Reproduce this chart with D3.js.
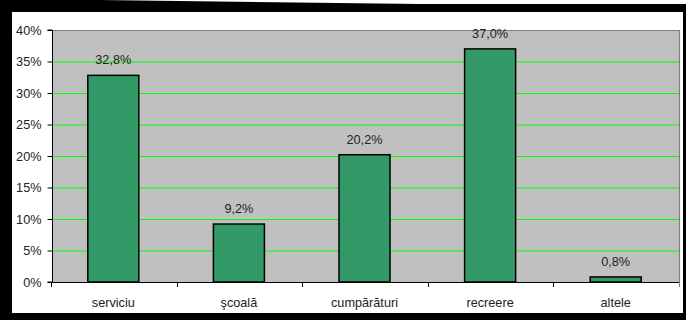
<!DOCTYPE html>
<html><head><meta charset="utf-8">
<script src="https://cdn.jsdelivr.net/npm/d3@7"></script>
<style>html,body{margin:0;padding:0;background:#fff;}svg{display:block;}</style>
</head><body>
<script>
const categories = ["serviciu", "şcoală", "cumpărături", "recreere", "altele"];
const values = [32.8, 9.2, 20.2, 37.0, 0.8];
const valueLabels = ["32,8%", "9,2%", "20,2%", "37,0%", "0,8%"];
const yTicks = [0, 5, 10, 15, 20, 25, 30, 35, 40];

const W = 686, H = 320;
const svg = d3.select("body").append("svg").attr("width", W).attr("height", H);

// frame
svg.append("rect").attr("x",0).attr("y",0).attr("width",W).attr("height",H).attr("fill","#000");
svg.append("polygon").attr("points","100,0 686,0 686,4 420,4").attr("fill","#fff");
svg.append("rect").attr("x",12).attr("y",12).attr("width",671).attr("height",301).attr("fill","#fff");

const L = 52, R = 680, T = 30, B = 282;
const x = d3.scaleBand().domain(categories).range([L, R]).paddingInner(0).paddingOuter(0);
const y = d3.scaleLinear().domain([0, 40]).range([B, T]);

// plot area
svg.append("rect").attr("x",L).attr("y",T).attr("width",R-L).attr("height",B-T).attr("fill","#C0C0C0");

// gridlines
svg.append("g").selectAll("line").data(yTicks.filter(d => d > 0 && d < 40)).join("line")
  .attr("x1", L).attr("x2", R).attr("y1", d => y(d) + 0.5).attr("y2", d => y(d) + 0.5)
  .attr("stroke", "#00FF00").attr("stroke-width", 1);

// top/right border gray
svg.append("path").attr("d", `M${L},${T+0.5}H${R-0.5}V${B}`).attr("fill","none").attr("stroke","#808080").attr("stroke-width",1.2);

// bars
const bw = 51;
svg.append("g").selectAll("rect").data(values).join("rect")
  .attr("x", (d,i) => x(categories[i]) + x.bandwidth()/2 - bw/2 - 1.5)
  .attr("y", d => y(d))
  .attr("width", bw)
  .attr("height", d => y(0) - y(d))
  .attr("fill", "#339966").attr("stroke", "#000").attr("stroke-width", 1.5);

// value labels
svg.append("g").selectAll("text").data(values).join("text")
  .attr("x", (d,i) => x(categories[i]) + x.bandwidth()/2 - 1.5)
  .attr("y", d => y(d) - 11)
  .attr("text-anchor", "middle")
  .attr("font-family", "Liberation Sans, Arial, sans-serif").attr("font-size", 12.7)
  .attr("fill", "#222")
  .text((d,i) => valueLabels[i]);

// y axis
const yAxis = d3.axisLeft(y).tickValues(yTicks).tickFormat(d => d + "%").tickSize(5).tickPadding(6);
const ga = svg.append("g").attr("transform", `translate(${L+0.5},0)`).call(yAxis);
ga.select(".domain").attr("stroke","#000").attr("d", `M-5,${T}H0V${B}H-5`);
ga.selectAll(".tick line").attr("stroke","#000");
ga.selectAll("text").attr("font-family","Liberation Sans, Arial, sans-serif").attr("font-size",12.7).attr("fill","#222");

// x axis
svg.append("line").attr("x1", L).attr("x2", R).attr("y1", B+0.5).attr("y2", B+0.5).attr("stroke","#000");
const bounds = categories.map(c => x(c)).concat([R]);
svg.append("g").selectAll("line").data(bounds).join("line")
  .attr("x1", d => Math.round(d) - 0.5).attr("x2", d => Math.round(d) - 0.5)
  .attr("y1", B).attr("y2", B + 5).attr("stroke", d => d === R ? "#808080" : "#000");
svg.append("g").selectAll("text").data(categories).join("text")
  .attr("x", d => x(d) + x.bandwidth()/2 - 1.5)
  .attr("y", 307)
  .attr("text-anchor","middle")
  .attr("font-family","Liberation Sans, Arial, sans-serif").attr("font-size",12.7).attr("fill","#222")
  .text(d => d);
</script>
</body></html>
